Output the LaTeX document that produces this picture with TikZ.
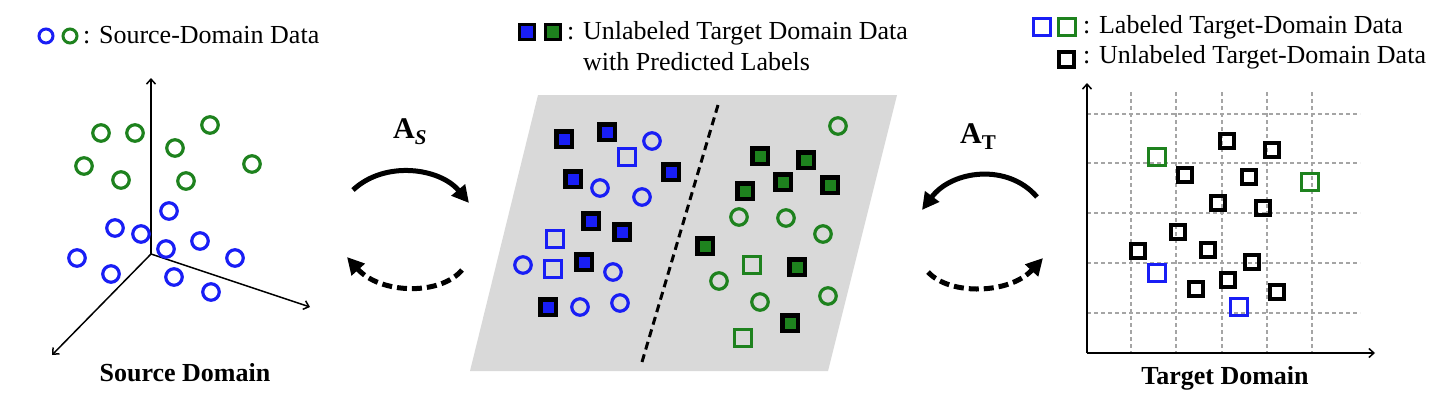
\documentclass[tikz,border=0pt]{standalone}
\usepackage{fontspec}
\setmainfont{Liberation Serif}
\usetikzlibrary{arrows.meta}
\definecolor{myblue}{RGB}{25,30,245}
\definecolor{mygreen}{RGB}{30,130,30}
\definecolor{panelgray}{RGB}{217,217,217}
\definecolor{gridgray}{RGB}{165,165,165}
\begin{document}
\begin{tikzpicture}[x=1pt,y=-1pt,
 txt/.style={font=\fontsize{26}{31}\selectfont, inner sep=0, anchor=base west},
 boldtxt/.style={font=\fontsize{26}{31}\selectfont\bfseries, inner sep=0, anchor=base},
 dot/.style={circle, inner sep=0, minimum size=16.5pt, line width=3.2pt},
 bc/.style={dot, draw=myblue},
 gc/.style={dot, draw=mygreen},
 legdot/.style={circle, inner sep=0, minimum size=14pt, line width=3pt},
 sq/.style={rectangle, inner sep=0},
 bfs/.style={sq, draw=black, fill=myblue, line width=4.5pt, minimum size=15.5pt},
 gfs/.style={sq, draw=black, fill=mygreen, line width=4.5pt, minimum size=15.5pt},
 bos/.style={sq, draw=myblue, line width=3.4pt, minimum size=16.5pt},
 gos/.style={sq, draw=mygreen, line width=3.4pt, minimum size=16.5pt},
 kos/.style={sq, draw=black, line width=4.2pt, minimum size=14.5pt},
 axisline/.style={line width=1.5pt, -{Straight Barb[length=5pt,width=9pt]}},
 gridline/.style={draw=gridgray, line width=1.1pt, dash pattern=on 4pt off 3pt},
 flow/.style={line width=5pt, -{Triangle[length=17pt,width=17pt]}},
 backflow/.style={flow, dash pattern=on 10pt off 5pt},
]
\useasboundingbox (0,0) rectangle (1444,400);

% ---------------- Left panel ----------------
\node[legdot, draw=myblue] (legbc) at (46,36) {};
\node[legdot, draw=mygreen] (leggc) at (70,36) {};
\node[txt] (legsrc) at (83,43) {: Source-Domain Data};

\coordinate (o1) at (151,254);
\coordinate (z1) at (151,78);
\coordinate (x1) at (52,355);
\coordinate (y1) at (310,307);
\draw[axisline] (o1) -- (z1);
\draw[axisline] (o1) -- (x1);
\draw[axisline] (o1) -- (y1);

\foreach \p [count=\i] in {(101,133),(135,133),(210,125),(175,148),(84,166),(121,180),(186,181),(252,164)}
  \node[gc] (lg\i) at \p {};
\foreach \p [count=\i] in {(169,211),(115,228),(141,234),(166,249),(200,241),(77,258),(111,274),(174,277),(235,258),(211,292)}
  \node[bc] (lb\i) at \p {};

\node[boldtxt] (srcdom) at (185,381) {Source Domain};

% ---------------- Middle panel ----------------
\node[sq, draw=black, fill=myblue, line width=3.8pt, minimum size=15pt] (legbfs) at (527,32) {};
\node[sq, draw=black, fill=mygreen, line width=3.8pt, minimum size=15pt] (leggfs) at (553,32) {};
\node[txt] (legmid1) at (567,39) {: Unlabeled Target Domain Data};
\node[txt] (legmid2) at (583,70) {with Predicted Labels};

\fill[panelgray] (538,95) -- (897,95) -- (828,371) -- (470,371) -- cycle;
\coordinate (sepA) at (718,105);
\coordinate (sepB) at (642,362);
\draw[line width=3pt, dash pattern=on 8pt off 5pt] (sepA) -- (sepB);

\foreach \p [count=\i] in {(564,139),(607,132),(573,179),(671,172),(591,221),(622,232),(584,262),(548,307)}
  \node[bfs] (mbf\i) at \p {};
\foreach \p [count=\i] in {(627,157),(555,239),(553,269)}
  \node[bos] (mbo\i) at \p {};
\foreach \p [count=\i] in {(652,141),(600,188),(642,197),(523,265),(613,272),(580,307),(620,303)}
  \node[bc] (mbc\i) at \p {};

\foreach \p [count=\i] in {(760,156),(806,160),(783,182),(830,185),(745,191),(705,246),(797,267),(790,323)}
  \node[gfs] (mgf\i) at \p {};
\foreach \p [count=\i] in {(752,265),(743,338)}
  \node[gos] (mgo\i) at \p {};
\foreach \p [count=\i] in {(838,126),(739,217),(786,218),(823,234),(719,281),(760,302),(828,296)}
  \node[gc] (mgc\i) at \p {};

% ---------------- Right panel ----------------
\node[sq, draw=myblue, line width=3.4pt, minimum size=16.5pt] (legbos) at (1042,27) {};
\node[sq, draw=mygreen, line width=3.4pt, minimum size=16.5pt] (leggos) at (1067,27) {};
\node[sq, draw=black, line width=4pt, minimum size=15pt] (legkos) at (1066,59) {};
\node[txt] (legr1) at (1083,33) {: Labeled Target-Domain Data};
\node[txt] (legr2) at (1083,63) {: Unlabeled Target-Domain Data};

\foreach \x in {1131,1176,1222,1267,1312}
  \draw[gridline] (\x,92) -- (\x,353);
\foreach \y in {114,163,213,263,313}
  \draw[gridline] (1087,\y) -- (1360,\y);

\coordinate (o2) at (1087,353);
\coordinate (z2) at (1087,83);
\coordinate (x2) at (1375,353);
\draw[axisline] (o2) -- (z2);
\draw[axisline] (o2) -- (x2);

\foreach \p [count=\i] in {(1227,141),(1272,150),(1185,175),(1249,177),(1218,203),(1263,208),(1178,232),(1138,251),(1208,250),(1252,262),(1228,280),(1196,289),(1277,292)}
  \node[kos] (rk\i) at \p {};
\node[gos] (rg1) at (1157,157) {};
\node[gos] (rg2) at (1310,182) {};
\node[bos] (rb1) at (1157,273) {};
\node[bos] (rb2) at (1239,307) {};

\node[boldtxt] (tgtdom) at (1225,384) {Target Domain};

% ---------------- Mapping arrows ----------------
\node[anchor=base west, inner sep=0] (as) at (393,138)
  {\fontsize{30}{36}\selectfont\bfseries A\raisebox{-6pt}{\fontsize{21}{25}\selectfont\itshape S}};
\node[anchor=base west, inner sep=0] (at) at (960,143)
  {\fontsize{30}{36}\selectfont\bfseries A\raisebox{-6pt}{\fontsize{21}{25}\selectfont T}};

\coordinate (ls1) at (353,190);
\coordinate (ls2) at (469,203);
\coordinate (ld1) at (462,270);
\coordinate (ld2) at (347,257);
\draw[flow] (ls1) .. controls (385,160) and (440,168) .. (ls2);
\draw[backflow] (ld1) .. controls (440,296) and (380,294) .. (ld2);

\coordinate (rs1) at (1037,197);
\coordinate (rs2) at (922,210);
\coordinate (rd1) at (928,272);
\coordinate (rd2) at (1043,258);
\draw[flow] (rs1) .. controls (1008,163) and (952,170) .. (rs2);
\draw[backflow] (rd1) .. controls (950,296) and (1010,294) .. (rd2);

\end{tikzpicture}
\end{document}
